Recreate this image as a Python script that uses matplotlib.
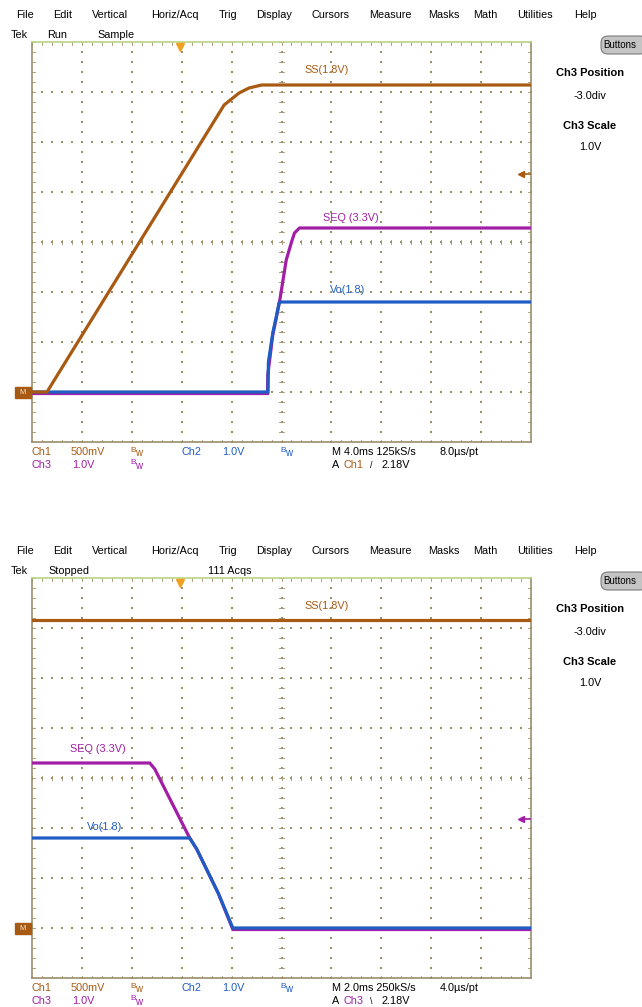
import numpy as np
import matplotlib
matplotlib.use('Agg')
import matplotlib.pyplot as plt
from matplotlib.patches import Rectangle, FancyBboxPatch

plt.rcParams['font.family'] = ['Liberation Sans', 'DejaVu Sans']

# colours of the scope
BROWN = '#a85a12'
MAGENTA = '#a21ea6'
BLUE = '#1f5cc4'
GRID = '#9e9068'
FRAME = '#9a8f6c'
TOPEDGE = '#b9d684'
ORANGE = '#f0a020'

# channel settings (V/div), all grounds at -3 div
ch_scale = {'Ch1': 0.5, 'Ch2': 1.0, 'Ch3': 1.0}
ch_offset = -3.0

# ---- top screen, 4 ms/div ----
top_tdiv = 4.0
top_t_ss = [0, 1.2, 15.4, 16.6, 17.4, 18.4, 40]
top_v_ss = [0, 0, 2.87, 2.99, 3.04, 3.07, 3.07]
top_t_seq = [0, 18.88, 18.9, 19.3, 19.84, 20.38, 20.78, 21.04, 21.44, 40]
top_v_seq = [-0.03, -0.03, 0.34, 1.14, 1.8, 2.64, 2.98, 3.18, 3.28, 3.28]
top_t_vo = [0, 18.92, 18.95, 19.3, 19.58, 19.8, 19.9, 40]
top_v_vo = [0, 0, 0.6, 1.18, 1.5, 1.78, 1.8, 1.8]

# ---- bottom screen, 2 ms/div ----
bot_tdiv = 2.0
bot_t_ss = [0, 20]
bot_v_ss = [3.08, 3.08]
bot_t_seq = [0, 4.72, 4.92, 6.32, 6.6, 7.47, 8.05, 20]
bot_v_seq = [3.3, 3.3, 3.18, 1.8, 1.58, 0.69, -0.03, -0.03]
bot_t_vo = [0, 6.32, 6.6, 7.47, 8.05, 20]
bot_v_vo = [1.8, 1.8, 1.58, 0.69, 0.0, 0.0]

trig_level = 2.18
trig_pos_div = 2.96

menu_items = ['File', 'Edit', 'Vertical', 'Horiz/Acq', 'Trig', 'Display', 'Cursors',
              'Measure', 'Masks', 'Math', 'Utilities', 'Help']
menu_x = [16, 53, 92, 151, 219, 256, 311, 369, 428, 473, 517, 574]

W, H = 642, 1007
fig = plt.figure(figsize=(W / 100, H / 100), dpi=100)


def screen_axes(top_px):
    ax = fig.add_axes([32 / W, 1 - (top_px + 400) / H, 499 / W, 400 / H])
    ax.set_xlim(0, 10)
    ax.set_ylim(-4, 4)
    ax.set_xticks([])
    ax.set_yticks([])
    for s in ['left', 'bottom', 'right']:
        ax.spines[s].set_color(FRAME)
        ax.spines[s].set_linewidth(1.2)
    ax.spines['top'].set_color(TOPEDGE)
    ax.spines['top'].set_linewidth(1.2)

    # dotted graticule
    fine = np.arange(0, 10.01, 0.2)
    fine_y = np.arange(-4, 4.01, 0.2)
    for gx in range(1, 10):
        ax.scatter(np.full(len(fine_y), gx), fine_y, s=1.0, marker='s', color=GRID, lw=0)
    for gy in range(-3, 4):
        ax.scatter(fine, np.full(len(fine), gy), s=1.0, marker='s', color=GRID, lw=0)
    # centre cross ticks
    for fx in fine:
        ax.plot([fx, fx], [-0.04, 0.04], color=GRID, lw=0.6)
    for fy in fine_y:
        ax.plot([4.95, 5.05], [fy, fy], color=GRID, lw=0.6)
    # frame ticks
    for fx in fine:
        ax.plot([fx, fx], [-4, -3.95], color=GRID, lw=0.6)
        ax.plot([fx, fx], [4, 3.95], color=GRID, lw=0.6)
    for fy in fine_y:
        ax.plot([0, 0.06], [fy, fy], color=GRID, lw=0.6)
        ax.plot([10, 9.94], [fy, fy], color=GRID, lw=0.6)
    return ax


def trace(ax, t, v, tdiv, ch, color):
    x = np.array(t) / tdiv
    y = np.array(v) / ch_scale[ch] + ch_offset
    ax.plot(x, y, color=color, lw=2.3, solid_joinstyle='miter', zorder=3)


def trig_marks(ax, ch, color):
    ax.plot([trig_pos_div], [3.9], marker='v', ms=6, color=ORANGE, clip_on=False, zorder=5)
    ly = trig_level / ch_scale[ch] + ch_offset
    ax.plot([9.8, 9.98], [ly, ly], color=color, lw=1.2, zorder=5)
    ax.plot([9.8], [ly], marker='<', ms=4.5, color=color, zorder=5)


ax1 = screen_axes(42)
trace(ax1, top_t_seq, top_v_seq, top_tdiv, 'Ch3', MAGENTA)
trace(ax1, top_t_vo, top_v_vo, top_tdiv, 'Ch2', BLUE)
trace(ax1, top_t_ss, top_v_ss, top_tdiv, 'Ch1', BROWN)
trig_marks(ax1, 'Ch1', BROWN)

ax2 = screen_axes(578)
trace(ax2, bot_t_ss, bot_v_ss, bot_tdiv, 'Ch1', BROWN)
trace(ax2, bot_t_seq, bot_v_seq, bot_tdiv, 'Ch3', MAGENTA)
trace(ax2, bot_t_vo, bot_v_vo, bot_tdiv, 'Ch2', BLUE)
trig_marks(ax2, 'Ch3', MAGENTA)

# overlay in pixel coordinates for all the screen text
ov = fig.add_axes([0, 0, 1, 1], zorder=10)
ov.set_xlim(0, W)
ov.set_ylim(H, 0)
ov.axis('off')
ov.patch.set_alpha(0)

FS = 7.8


def txt(x, y, s, color='black', **kw):
    kw.setdefault('fontsize', FS)
    ov.text(x, y, s, color=color, va='center', ha=kw.pop('ha', 'left'), **kw)


def bw(x, y, color):
    txt(x, y - 2, 'B', color, fontsize=6)
    txt(x + 5, y + 1, 'w', color, fontsize=7)


def panel(dy, status, tdiv_txt, rate, pt, trig_ch, trig_color, slope, labels):
    for name, mx in zip(menu_items, menu_x):
        txt(mx, 15 + dy, name, fontsize=7.8)
    for s, sx in status:
        txt(sx, 35 + dy, s)
    # buttons + side readout
    ov.add_patch(FancyBboxPatch((601, 36 + dy), 46, 18, boxstyle='round,pad=0,rounding_size=7',
                                fc='#c4c4c4', ec='#7c7c7c', lw=0.8))
    txt(603, 45 + dy, 'Buttons', fontsize=7)
    txt(590, 73 + dy, 'Ch3 Position', ha='center', fontsize=8, fontweight='bold')
    txt(590, 96 + dy, '-3.0div', ha='center')
    txt(590, 126 + dy, 'Ch3 Scale', ha='center', fontsize=8, fontweight='bold')
    txt(590, 147 + dy, '1.0V', ha='center')
    # ground marker
    ov.add_patch(Rectangle((15, 387 + dy), 16, 11, color=BROWN))
    txt(19, 392.5 + dy, 'M', '#f4e6d8', fontsize=5.5)
    # trace labels
    for s, lx, ly, c in labels:
        txt(lx, ly + dy, s, c)
    # readouts
    r1, r2 = 452 + dy, 465 + dy
    txt(32, r1, 'Ch1', BROWN)
    txt(71, r1, '500mV', BROWN)
    bw(130, r1, BROWN)
    txt(181, r1, 'Ch2', BLUE)
    txt(222, r1, '1.0V', BLUE)
    bw(280, r1, BLUE)
    txt(332, r1, 'M ' + tdiv_txt + ' ' + rate)
    txt(440, r1, pt)
    txt(32, r2, 'Ch3', MAGENTA)
    txt(72, r2, '1.0V', MAGENTA)
    bw(130, r2, MAGENTA)
    txt(332, r2, 'A')
    txt(343, r2, trig_ch, trig_color)
    txt(370, r2, slope, fontsize=6.5)
    txt(382, r2, '2.18V')


panel(0, [('Tek', 11), ('Run', 47), ('Sample', 97)], '4.0ms', '125kS/s', '8.0\u00b5s/pt',
      'Ch1', BROWN, '/',
      [('SS(1.8V)', 304, 70, BROWN), ('SEQ (3.3V)', 323, 218, MAGENTA), ('Vo(1.8)', 330, 290, BLUE)])
panel(536, [('Tek', 11), ('Stopped', 48), ('111 Acqs', 208)], '2.0ms', '250kS/s', '4.0\u00b5s/pt',
      'Ch3', MAGENTA, '\\',
      [('SS(1.8V)', 304, 70, BROWN), ('SEQ (3.3V)', 70, 213, MAGENTA), ('Vo(1.8)', 87, 291, BLUE)])

fig.savefig('out.png', dpi=100, facecolor='white')
